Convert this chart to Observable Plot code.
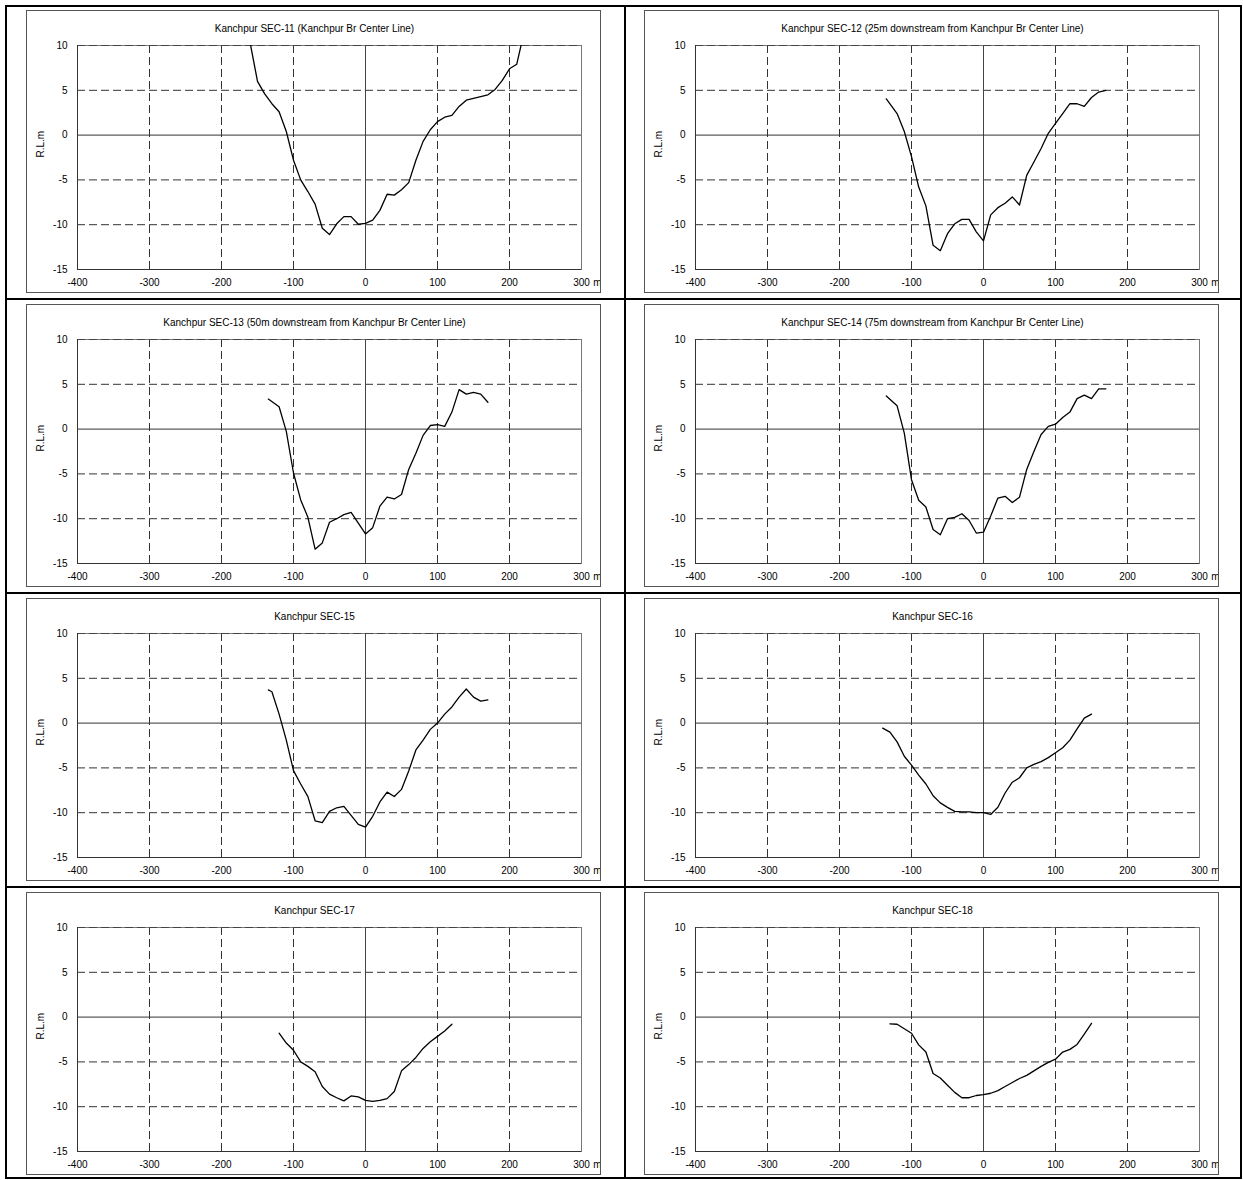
<!DOCTYPE html>
<html>
<head>
<meta charset="utf-8">
<script src="https://cdn.jsdelivr.net/npm/d3@7"></script>
<script src="https://cdn.jsdelivr.net/npm/@observablehq/plot@0.6"></script>
<style>
  html, body { margin: 0; padding: 0; background: #fff; }
  #page { position: relative; width: 1243px; height: 1180px; background: #fff; overflow: hidden; }
  .bar { position: absolute; background: #000; }
  .panel { position: absolute; width: 575px; height: 283px; }
  .panel svg { display: block; outline: 1px solid #555; outline-offset: -1px; }
</style>
</head>
<body>
<div id="page"></div>
<script>
// ---- axis / grid definitions ----
const xDomain = [-400, 300];
const yDomain = [-15, 10];
const xTicks = [-400, -300, -200, -100, 0, 100, 200, 300];
const yTicks = [10, 5, 0, -5, -10, -15];
const xDashed = [-300, -200, -100, 100, 200];
const yDashed = [5, -5, -10];

// ---- panel titles ----
const titles = [
  "Kanchpur SEC-11 (Kanchpur Br Center Line)",
  "Kanchpur SEC-12 (25m downstream from Kanchpur Br Center Line)",
  "Kanchpur SEC-13 (50m downstream from Kanchpur Br Center Line)",
  "Kanchpur SEC-14 (75m downstream from Kanchpur Br Center Line)",
  "Kanchpur SEC-15",
  "Kanchpur SEC-16",
  "Kanchpur SEC-17",
  "Kanchpur SEC-18"
];

// ---- section data: distance (m) and R.L. (m) ----
const sec11X = [-160, -150, -140, -130, -120, -110, -100, -90, -80, -70, -60, -50, -40, -30, -20, -10, 0, 10, 20, 30, 40, 50, 60, 70, 80, 90, 100, 110, 120, 130, 140, 150, 160, 170, 180, 190, 200, 210, 220];
const sec11Y = [10.2, 6.0, 4.6, 3.5, 2.6, 0.4, -2.8, -5.0, -6.3, -7.7, -10.4, -11.1, -9.9, -9.1, -9.1, -9.95, -9.85, -9.5, -8.4, -6.6, -6.7, -6.1, -5.3, -2.8, -0.7, 0.6, 1.5, 2.0, 2.2, 3.2, 3.9, 4.1, 4.3, 4.5, 5.1, 6.1, 7.4, 7.9, 11.4];

const sec12X = [-135, -120, -110, -100, -90, -80, -70, -60, -50, -40, -30, -20, -10, 0, 10, 20, 30, 40, 50, 60, 70, 80, 90, 100, 110, 120, 130, 140, 150, 160, 170];
const sec12Y = [4.05, 2.4, 0.4, -2.4, -5.8, -7.9, -12.3, -12.9, -11.0, -9.9, -9.4, -9.4, -10.8, -11.8, -8.9, -8.1, -7.6, -6.9, -7.8, -4.5, -3.0, -1.5, 0.2, 1.3, 2.4, 3.5, 3.5, 3.2, 4.2, 4.8, 5.0];

const sec13X = [-135, -120, -110, -100, -90, -80, -70, -60, -50, -40, -30, -20, -10, 0, 10, 20, 30, 40, 50, 60, 70, 80, 90, 100, 110, 120, 130, 140, 150, 160, 170];
const sec13Y = [3.35, 2.5, -0.26, -4.9, -7.9, -9.85, -13.4, -12.7, -10.4, -10.0, -9.55, -9.3, -10.5, -11.7, -11.0, -8.6, -7.6, -7.8, -7.3, -4.5, -2.7, -0.7, 0.4, 0.5, 0.3, 1.9, 4.4, 3.9, 4.1, 3.9, 3.0];

const sec14X = [-135, -120, -110, -100, -90, -80, -70, -60, -50, -40, -30, -20, -10, 0, 10, 20, 30, 40, 50, 60, 70, 80, 90, 100, 110, 120, 130, 140, 150, 160, 170];
const sec14Y = [3.7, 2.6, -0.45, -5.65, -7.95, -8.7, -11.2, -11.8, -10.0, -9.85, -9.45, -10.2, -11.6, -11.5, -9.7, -7.7, -7.5, -8.2, -7.6, -4.5, -2.5, -0.6, 0.3, 0.55, 1.3, 1.9, 3.4, 3.8, 3.4, 4.5, 4.5];

const sec15X = [-135, -130, -120, -110, -100, -90, -80, -70, -60, -50, -40, -30, -20, -10, 0, 10, 20, 30, 40, 50, 60, 70, 80, 90, 100, 110, 120, 130, 140, 150, 160, 170];
const sec15Y = [3.7, 3.5, 1.0, -1.9, -5.3, -6.8, -8.2, -10.9, -11.1, -9.85, -9.45, -9.3, -10.3, -11.3, -11.6, -10.4, -8.8, -7.7, -8.2, -7.4, -5.35, -3.0, -1.9, -0.7, 0.0, 1.0, 1.8, 2.9, 3.8, 2.9, 2.45, 2.6];

const sec16X = [-140, -130, -120, -110, -100, -90, -80, -70, -60, -50, -40, -30, -20, -10, 0, 10, 20, 30, 40, 50, 60, 70, 80, 90, 100, 110, 120, 130, 140, 150];
const sec16Y = [-0.56, -1.0, -2.1, -3.7, -4.7, -5.8, -6.8, -8.1, -8.9, -9.4, -9.85, -9.9, -9.9, -10.0, -10.0, -10.2, -9.4, -7.8, -6.6, -6.1, -5.0, -4.6, -4.3, -3.85, -3.3, -2.75, -1.9, -0.65, 0.55, 1.0];

const sec17X = [-120, -110, -100, -90, -80, -70, -60, -50, -40, -30, -20, -10, 0, 10, 20, 30, 40, 50, 60, 70, 80, 90, 100, 110, 120];
const sec17Y = [-1.8, -2.9, -3.7, -5.0, -5.5, -6.1, -7.75, -8.6, -9.0, -9.35, -8.8, -8.9, -9.3, -9.4, -9.3, -9.1, -8.3, -6.0, -5.3, -4.5, -3.5, -2.75, -2.15, -1.55, -0.8];

const sec18X = [-130, -120, -110, -100, -90, -80, -70, -60, -50, -40, -30, -20, -10, 0, 10, 20, 30, 40, 50, 60, 70, 80, 90, 100, 110, 120, 130, 140, 150];
const sec18Y = [-0.75, -0.8, -1.3, -1.8, -3.1, -3.9, -6.3, -6.8, -7.6, -8.4, -9.0, -9.0, -8.75, -8.65, -8.5, -8.2, -7.75, -7.3, -6.85, -6.5, -6.0, -5.5, -5.05, -4.7, -3.9, -3.6, -3.05, -1.9, -0.7];

const sectionsX = [sec11X, sec12X, sec13X, sec14X, sec15X, sec16X, sec17X, sec18X];
const sectionsY = [sec11Y, sec12Y, sec13Y, sec14Y, sec15Y, sec16Y, sec17Y, sec18Y];

// ---- page layout ----
const page = document.getElementById("page");
function bar(l, t, w, h) {
  const d = document.createElement("div");
  d.className = "bar";
  d.style.left = l + "px"; d.style.top = t + "px";
  d.style.width = w + "px"; d.style.height = h + "px";
  page.appendChild(d);
}
// outer border
bar(5, 5, 1237, 2);
bar(5, 1177, 1237, 2);
bar(5, 5, 2, 1174);
bar(1240, 5, 2, 1174);
// dividers
bar(624, 5, 2, 1174);
bar(5, 298, 1237, 2);
bar(5, 592, 1237, 2);
bar(5, 886, 1237, 2);

const colLeft = [26, 644];
const rowTop = [10, 304, 598, 892];

function makePlot(i) {
  const data = sectionsX[i].map((x, k) => ({x, y: sectionsY[i][k]}));
  return Plot.plot({
    width: 575,
    height: 283,
    marginLeft: 51,
    marginRight: 20,
    marginTop: 35,
    marginBottom: 24,
    x: {domain: xDomain},
    y: {domain: yDomain},
    style: {
      fontFamily: "'Liberation Sans', Arial, Helvetica, sans-serif",
      fontSize: "10px",
      color: "#000",
      background: "#fff",
      overflow: "hidden"
    },
    marks: [
      Plot.frame({stroke: "#777"}),
      Plot.ruleX(xDashed, {stroke: "#333", strokeWidth: 1, strokeDasharray: "8,4"}),
      Plot.ruleY(yDashed, {stroke: "#333", strokeWidth: 1, strokeDasharray: "8,4"}),
      Plot.ruleY([yDomain[1]], {stroke: "#444", strokeWidth: 1, strokeDasharray: "8,4"}),
      Plot.ruleX([xDomain[0]], {stroke: "#333", strokeWidth: 1}),
      Plot.ruleY([yDomain[0]], {stroke: "#333", strokeWidth: 1}),
      Plot.ruleX([0], {stroke: "#444", strokeWidth: 1}),
      Plot.ruleY([0], {stroke: "#333", strokeWidth: 1}),
      Plot.axisX({ticks: xTicks, tickSize: 0, tickPadding: 9, tickFormat: d => String(d), label: null, fill: "#000"}),
      Plot.axisY({ticks: yTicks, tickSize: 0, tickPadding: 10, tickFormat: d => String(d), label: null, fill: "#000"}),
      Plot.text(["m"], {text: d => d, frameAnchor: "bottom-right", textAnchor: "middle", dx: 16, dy: 9, lineAnchor: "top", fill: "#000"}),
      Plot.text(["R.L.m"], {text: d => d, frameAnchor: "left", dx: -37, rotate: -90, fill: "#000"}),
      Plot.text([titles[i]], {text: d => d, frameAnchor: "top", dx: -15, dy: -21, fill: "#000"}),
      Plot.line(data, {x: "x", y: "y", stroke: "#000", strokeWidth: 1.3, clip: true})
    ]
  });
}

for (let i = 0; i < 8; i++) {
  const holder = document.createElement("div");
  holder.className = "panel";
  holder.style.left = colLeft[i % 2] + "px";
  holder.style.top = rowTop[Math.floor(i / 2)] + "px";
  holder.appendChild(makePlot(i));
  page.appendChild(holder);
}
</script>
</body>
</html>
